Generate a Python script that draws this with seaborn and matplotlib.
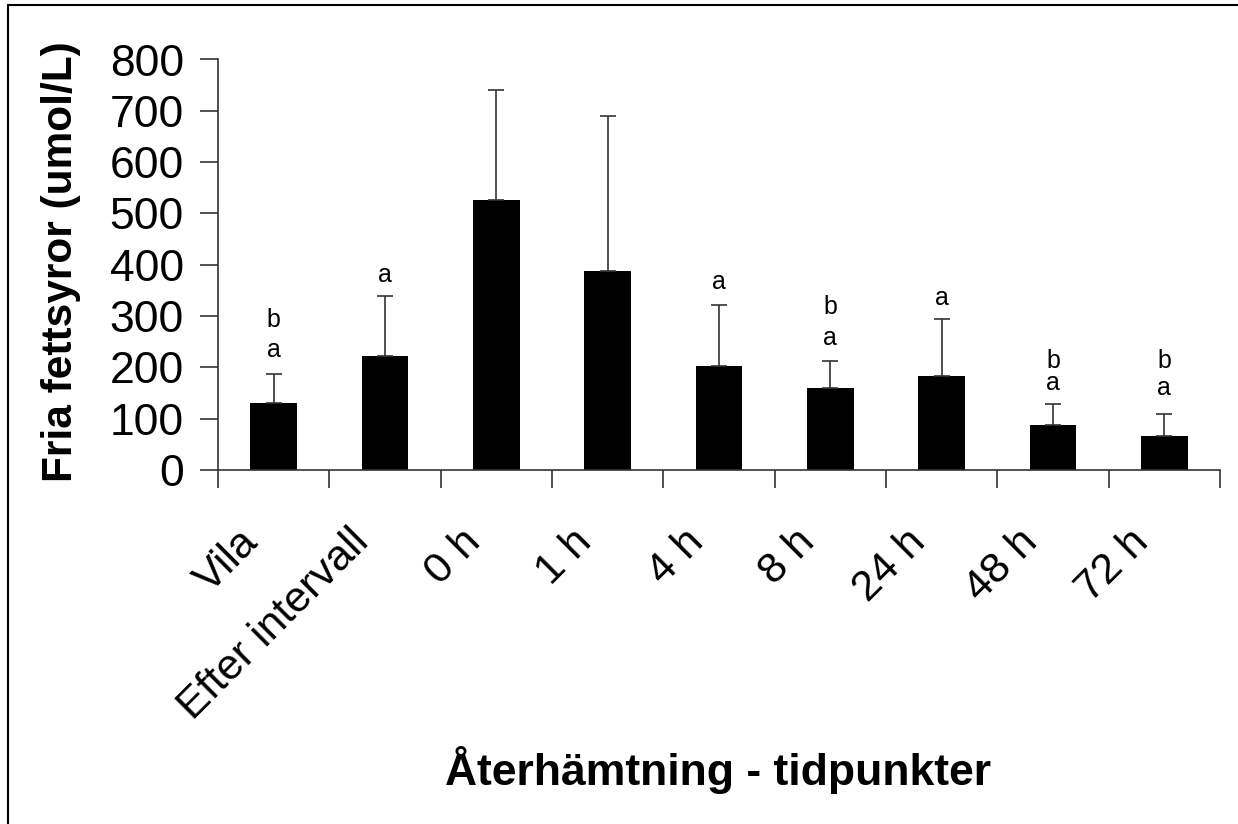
import matplotlib
matplotlib.use("Agg")
import matplotlib.pyplot as plt
import matplotlib.transforms as mtransforms
from matplotlib.lines import Line2D
import seaborn as sns
import pandas as pd
import numpy as np

categories = ["Vila", "Efter intervall", "0 h", "1 h", "4 h", "8 h", "24 h", "48 h", "72 h"]
means = [130, 222, 527, 388, 202, 159, 184, 88, 66]
sd_upper = [58, 117, 214, 301, 119, 54, 111, 40, 43]
letters_lower = ["a", "a", "", "", "a", "a", "a", "a", "a"]
letters_upper = ["b", "", "", "", "", "b", "", "b", "b"]
lower_y = [233, 380, 0, 0, 366, 258, 336, 169, 159]
upper_y = [293, 0, 0, 0, 0, 317, 0, 212, 212]
yticks = [0, 100, 200, 300, 400, 500, 600, 700, 800]

sns.set_theme(style="white")
plt.rcParams['font.family'] = ['Liberation Sans', 'DejaVu Sans']
plt.rcParams['text.color'] = 'black'
plt.rcParams['axes.labelcolor'] = 'black'
plt.rcParams['xtick.labelcolor'] = 'black'
plt.rcParams['ytick.labelcolor'] = 'black'

df = pd.DataFrame({"cat": categories, "val": means})

W, H = 1238, 824
fig = plt.figure(figsize=(W / 100, H / 100), dpi=100)
ax = fig.add_axes([218 / W, 1 - 470 / H, 1002 / W, 410.5 / H])

sns.barplot(data=df, x="cat", y="val", color="black", width=0.42,
            edgecolor="black", linewidth=0, saturation=1, ax=ax)
x = np.arange(len(categories))
ax.errorbar(x, means, yerr=[np.zeros(len(means)), sd_upper], fmt="none",
            ecolor="#333333", elinewidth=1.2, capsize=6, capthick=1.2, zorder=3)

for i in range(len(categories)):
    if letters_lower[i]:
        ax.text(x[i], lower_y[i], letters_lower[i], ha="center", va="center", fontsize=18)
    if letters_upper[i]:
        ax.text(x[i], upper_y[i], letters_upper[i], ha="center", va="center", fontsize=18)

ax.set_xlim(-0.5, len(categories) - 0.5)
ax.set_ylim(0, 800)
ax.set_yticks(yticks)
ax.set_yticklabels([str(t) for t in yticks], fontsize=32)
ax.set_xticks(x)
ax.set_xticklabels(categories, fontsize=31, rotation=45, ha="right", rotation_mode="anchor")
ax.set_xticks(np.arange(-0.5, len(categories), 1.0), minor=True)
ax.tick_params(axis="x", which="major", length=0, pad=22)
ax.tick_params(axis="x", which="minor", length=13, width=1.2, color="#333333", direction="out", bottom=True)
ax.tick_params(axis="y", which="major", length=13, width=1.2, color="#333333", direction="out", left=True, pad=11.5)

offset = mtransforms.ScaledTranslation(-0.36, -0.21, fig.dpi_scale_trans)
for lab in ax.get_xticklabels():
    lab.set_transform(lab.get_transform() + offset)

for s in ["top", "right"]:
    ax.spines[s].set_visible(False)
for s in ["left", "bottom"]:
    ax.spines[s].set_color("#333333")
    ax.spines[s].set_linewidth(1.2)

ax.set_xlabel("")
ax.set_ylabel("")
fig.text(61 / W, 1 - 262 / H, "Fria fettsyror (umol/L)", rotation=90, ha="center", va="center",
         fontsize=30.5, fontweight="bold")
fig.text(718 / W, 0.065, "Återhämtning - tidpunkter", ha="center", va="center",
         fontsize=32, fontweight="bold")

fig.add_artist(Line2D([7.5 / W, 1], [1 - 4.5 / H, 1 - 4.5 / H], transform=fig.transFigure,
                      color="black", linewidth=1.5))
fig.add_artist(Line2D([7.5 / W, 7.5 / W], [0, 1 - 4.5 / H], transform=fig.transFigure,
                      color="black", linewidth=1.5))

fig.savefig("out.png", dpi=100)
